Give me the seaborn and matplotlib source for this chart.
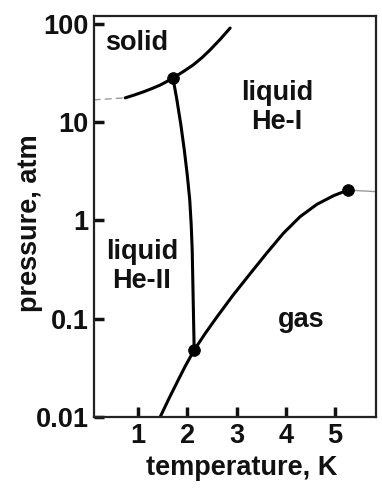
import numpy as np
import pandas as pd
import seaborn as sns
import matplotlib
matplotlib.use("Agg")
import matplotlib.pyplot as plt

# ---- data ----
melt_T = [0.74, 0.92, 1.10, 1.28, 1.45, 1.58, 1.71, 1.92, 2.12, 2.30, 2.46, 2.67, 2.87]
melt_p = [17.7, 18.9, 20.3, 22.0, 23.9, 25.9, 28.2, 32.8, 38.3, 45.5, 54.3, 70.0, 91.0]
melt_ext_T = [0.10, 0.74]
melt_ext_p = [16.9, 17.7]

lambda_T = [1.71, 1.79, 1.87, 1.94, 2.00, 2.05, 2.08, 2.10, 2.12, 2.14]
lambda_p = [28.2, 16.8, 9.4, 5.2, 2.9, 1.62, 0.90, 0.50, 0.155, 0.048]

vapor_T = [1.45, 1.62, 1.79, 1.96, 2.14, 2.37, 2.60, 2.93, 3.27, 3.61, 3.95, 4.29, 4.63, 4.97, 5.26]
vapor_p = [0.0100, 0.0151, 0.0224, 0.033, 0.048, 0.0716, 0.104, 0.174, 0.285, 0.464, 0.741, 1.094, 1.46, 1.79, 2.04]
crit_ext_T = [5.26, 5.80]
crit_ext_p = [2.04, 1.97]

points_T = [1.71, 2.14, 5.26]
points_p = [28.2, 0.048, 2.04]

region_labels = ["solid", "liquid\nHe-I", "liquid\nHe-II", "gas"]
region_T = [0.98, 3.82, 1.08, 4.31]
region_p = [64.0, 14.0, 0.337, 0.097]

xticks = [1, 2, 3, 4, 5]
yticks = [0.01, 0.1, 1, 10, 100]
ytick_labels = ["0.01", "0.1", "1", "10", "100"]

# ---- style ----
sns.set_theme(style="white")
plt.rcParams['font.family'] = ['Liberation Sans', 'DejaVu Sans']
plt.rcParams['font.weight'] = 'bold'

fig = plt.figure(figsize=(3.82, 4.93), dpi=100)
ax = fig.add_axes([94/382, 1-417/493, (376-94)/382, (417-16)/493])
ax.set_facecolor("white")

lw = 2.2
kw = dict(ax=ax, sort=False, estimator=None)
sns.lineplot(x=melt_ext_T, y=melt_ext_p, color="#9a9a9a", lw=1.0,
             linestyle=(0, (5, 3)), **kw)
sns.lineplot(x=melt_T, y=melt_p, color="black", lw=lw, **kw)
sns.lineplot(x=lambda_T, y=lambda_p, color="black", lw=lw, **kw)
sns.lineplot(x=vapor_T, y=vapor_p, color="black", lw=lw, **kw)
sns.lineplot(x=crit_ext_T, y=crit_ext_p, color="#9a9a9a", lw=1.0, **kw)
sns.scatterplot(x=points_T, y=points_p, ax=ax, color="black", s=70,
                edgecolor="black", zorder=5)

ax.set_yscale("log")
ax.set_xlim(0.107, 5.83)
ax.set_ylim(0.01, 120.6)

for lab, t, p in zip(region_labels, region_T, region_p):
    ax.text(t, p, lab, ha="center", va="center", fontsize=19.5, fontweight="bold",
            linespacing=1.15, color="#111111")

ax.set_xticks(xticks)
ax.set_xticklabels([str(v) for v in xticks])
ax.set_yticks(yticks)
ax.set_yticklabels(ytick_labels)
ax.minorticks_off()
ax.tick_params(axis="both", which="major", direction="in", length=7, width=2.5,
               labelsize=19.5, pad=4, color="#111111", labelcolor="#111111",
               bottom=True, left=True, top=False, right=False)
for lab in ax.get_xticklabels() + ax.get_yticklabels():
    lab.set_fontweight("bold")

for s in ax.spines.values():
    s.set_visible(True)
    s.set_color("#222222")
    s.set_linewidth(1.6)

ax.set_xlabel("temperature, K", fontsize=19.5, fontweight="bold", color="#111111")
ax.set_ylabel("pressure, atm", fontsize=19.5, fontweight="bold", color="#111111", va="center")
ax.xaxis.set_label_coords(0.525, -0.095)
ax.yaxis.set_label_coords(-0.227, 0.484)
ax.get_xaxis().label.set_va("top")

fig.savefig("out.png", dpi=100, facecolor="white")
